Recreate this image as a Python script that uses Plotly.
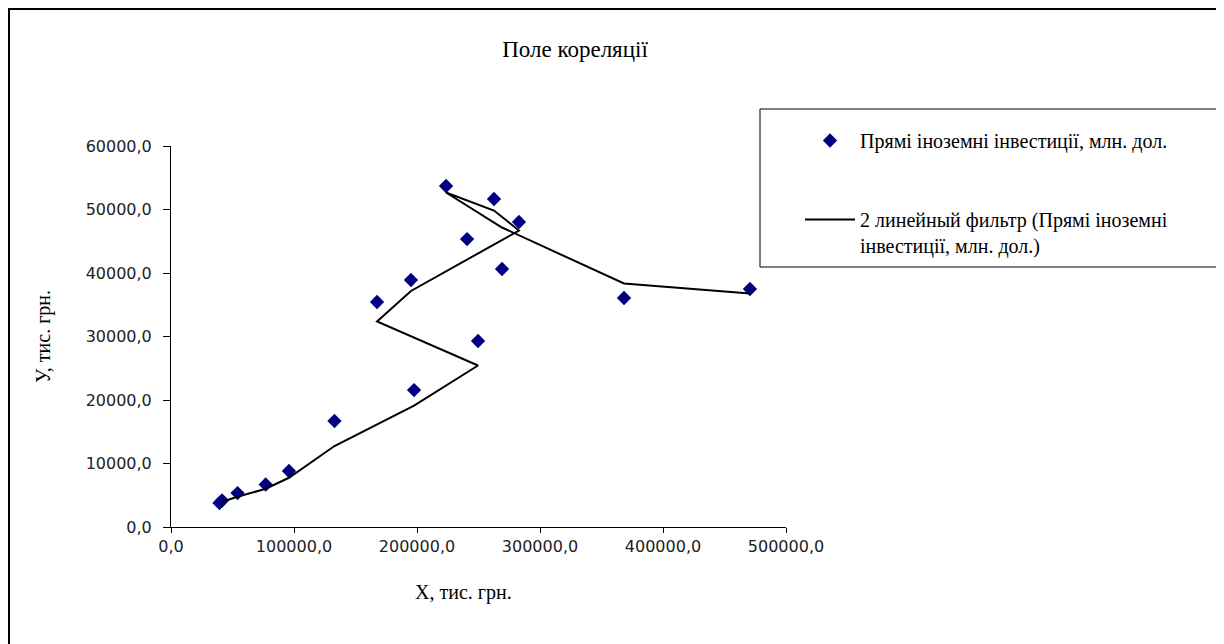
import plotly.graph_objects as go

# Data, in original data order
x_vals = [39400, 41500, 54100, 77000, 95900, 132900, 197600, 249600, 167500,
          195100, 240700, 282900, 262600, 223600, 269100, 368300, 470700]
y_vals = [3780, 4170, 5350, 6690, 8820, 16690, 21570, 29290, 35430,
          38900, 45350, 48030, 51650, 53700, 40630, 36060, 37480]

series_name = "Прямі іноземні інвестиції, млн. дол."
trend_name = "2 линейный фильтр (Прямі іноземні<br>інвестиції, млн. дол.)"

x_tickvals = [0, 100000, 200000, 300000, 400000, 500000]
x_ticktext = ["0,0", "100000,0", "200000,0", "300000,0", "400000,0", "500000,0"]
y_tickvals = [0, 10000, 20000, 30000, 40000, 50000, 60000]
y_ticktext = ["0,0", "10000,0", "20000,0", "30000,0", "40000,0", "50000,0", "60000,0"]

# 2-period moving average (Excel style: x of current point, mean of y with previous)
period = 2
trend_x = [x_vals[i] for i in range(period - 1, len(x_vals))]
trend_y = [sum(y_vals[i - period + 1:i + 1]) / period for i in range(period - 1, len(y_vals))]

serif = "Liberation Serif, Times New Roman, serif"
sans = "DejaVu Sans, Verdana, sans-serif"

fig = go.Figure()
fig.add_trace(go.Scatter(
    x=x_vals, y=y_vals, mode="markers", name=series_name,
    marker=dict(symbol="diamond", size=11, color="#000080", line=dict(width=0)),
    legendgroup="a",
))
fig.add_trace(go.Scatter(
    x=trend_x, y=trend_y, mode="lines", name=trend_name,
    line=dict(color="black", width=2),
    legendgroup="b",
))

W, H = 1224, 644
OFF = 8  # page body margin
# plot area in page (screenshot) pixel coords
L, R, T, B = 171, 786, 146, 527
pw, ph = R - L, B - T

def px(xp):
    return (xp - L) / pw

def py(yp):
    return (B - yp) / ph

fig.update_layout(
    width=W, height=H,
    margin=dict(l=L - OFF, r=W - (R - OFF), t=T - OFF, b=H - (B - OFF), pad=0),
    paper_bgcolor="white", plot_bgcolor="white",
    title=dict(text="Поле кореляції", font=dict(family=serif, size=23, color="black"),
               xref="paper", x=px(575), xanchor="center",
               yref="container", y=1 - (49 - OFF) / H, yanchor="middle"),
    showlegend=True,
    legend=dict(
        x=px(800), xanchor="left", y=py(121), yanchor="top",
        bgcolor="rgba(0,0,0,0)", borderwidth=0,
        font=dict(family=serif, size=20, color="black"),
        traceorder="grouped", tracegroupgap=50, valign="top",
        itemwidth=50,
    ),
    xaxis=dict(
        range=[0, 500000], tickvals=x_tickvals, ticktext=x_ticktext,
        showgrid=False, zeroline=False, showline=True, linecolor="black", linewidth=1,
        ticks="outside", ticklen=5, tickcolor="black",
        tickfont=dict(family=sans, size=16, color="#222"),
    ),
    yaxis=dict(
        range=[0, 60000], tickvals=y_tickvals, ticktext=y_ticktext,
        showgrid=False, zeroline=False, showline=True, linecolor="black", linewidth=1,
        ticks="outside", ticklen=7, tickcolor="black", ticklabelstandoff=8,
        tickfont=dict(family=sans, size=16, color="#222"),
        title=dict(text="У, тис. грн.", font=dict(family=serif, size=20, color="black"),
                   standoff=29),
    ),
    annotations=[
        dict(text="X, тис. грн.", xref="paper", yref="paper", x=px(463), y=py(592),
             xanchor="center", yanchor="middle", showarrow=False,
             font=dict(family=serif, size=20, color="black")),
    ],
    shapes=[
        # outer chart frame
        dict(type="rect", xref="paper", yref="paper",
             x0=px(9), x1=px(1218), y0=py(660), y1=py(9),
             line=dict(color="black", width=2), fillcolor="rgba(0,0,0,0)", layer="below"),
        # legend box
        dict(type="rect", xref="paper", yref="paper",
             x0=px(760), x1=px(1218), y0=py(267), y1=py(109),
             line=dict(color="black", width=1), fillcolor="rgba(0,0,0,0)", layer="below"),
    ],
)

fig.write_html("out.html")
